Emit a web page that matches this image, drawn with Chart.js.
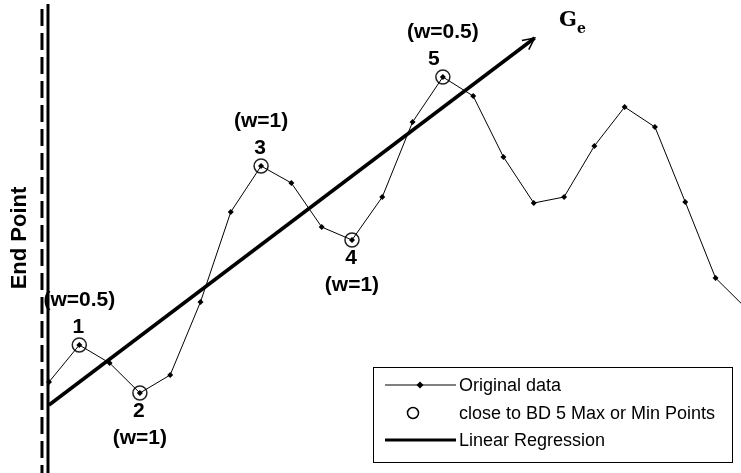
<!DOCTYPE html>
<html>
<head>
<meta charset="utf-8">
<script src="https://cdn.jsdelivr.net/npm/chart.js@4"></script>
<style>
  body { margin: 0; background: #fff; }
  #wrap { width: 741px; height: 473px; position: relative; }
</style>
</head>
<body>
<div id="wrap"><canvas id="miGrafico"></canvas></div>
<script>
// original signal, one value per sample
var original = [9.1, 12.8, 11.0, 8.0, 9.8, 17.1, 26.1, 30.7, 29.0, 24.6, 23.3, 27.6,
                35.1, 39.6, 37.7, 31.6, 27.0, 27.6, 32.7, 36.6, 34.6, 27.1, 19.5, 16.5];
// the 5 max / min points close to the boundary (sample index)
var extremaIdx = [1, 3, 7, 10, 13];
var extremaNum = ['1', '2', '3', '4', '5'];
var extremaW = ['(w=0.5)', '(w=1)', '(w=1)', '(w=1)', '(w=0.5)'];
// linear regression, start and end (arrow)
var regX = [0, 16.03];
var regY = [6.8, 43.5];
var endPointX = 0;
var legendLabels = ['Original data', 'close to BD 5 Max or Min Points', 'Linear Regression'];

document.addEventListener('DOMContentLoaded', function() {
    var ctx = document.getElementById('miGrafico');

    var origPts = original.map((v, i) => ({ x: i, y: v }));
    var extPts = extremaIdx.map(i => ({ x: i, y: original[i] }));
    var regPts = regX.map((x, i) => ({ x: x, y: regY[i] }));

    // label offsets above / below each circled point
    var below = [false, true, false, true, false];

    var extras = {
        id: 'extras',
        beforeDatasetsDraw: function(chart) {
            var c = chart.ctx;
            var xs = chart.scales.x, ys = chart.scales.y;
            c.save();
            c.fillStyle = '#000';
            c.textAlign = 'center';
            c.textBaseline = 'middle';
            c.font = 'bold 21px "Liberation Sans", Arial, sans-serif';
            extremaIdx.forEach(function(idx, k) {
                var px = xs.getPixelForValue(idx);
                var py = ys.getPixelForValue(original[idx]);
                var s = below[k] ? 1 : -1;
                var nx = k === 4 ? px - 8 : px;
                c.fillText(extremaNum[k], nx - 1, py + s * 18);
                c.fillText(extremaW[k], px, py + s * 45);
            });
            // End Point label
            c.save();
            c.translate(20, 238);
            c.rotate(-Math.PI / 2);
            c.font = 'bold 22px "Liberation Sans", Arial, sans-serif';
            c.fillText('End Point', 0, 0);
            c.restore();
            // end point lines
            var ex = xs.getPixelForValue(endPointX) - 1;
            c.strokeStyle = '#000';
            c.lineWidth = 3;
            c.beginPath();
            c.moveTo(ex, 4); c.lineTo(ex, 473);
            c.stroke();
            c.setLineDash([17, 7]);
            c.beginPath();
            c.moveTo(ex - 6, 9); c.lineTo(ex - 6, 473);
            c.stroke();
            c.restore();
        },
        afterDatasetsDraw: function(chart) {
            var c = chart.ctx;
            var xs = chart.scales.x, ys = chart.scales.y;
            c.save();
            // arrow head on the regression line
            var x1 = xs.getPixelForValue(regX[0]), y1 = ys.getPixelForValue(regY[0]);
            var x2 = xs.getPixelForValue(regX[1]), y2 = ys.getPixelForValue(regY[1]);
            var a = Math.atan2(y2 - y1, x2 - x1);
            c.strokeStyle = '#000';
            c.lineWidth = 1.5;
            c.beginPath();
            c.moveTo(x2 - 13 * Math.cos(a - 0.45), y2 - 13 * Math.sin(a - 0.45));
            c.lineTo(x2, y2);
            c.lineTo(x2 - 13 * Math.cos(a + 0.45), y2 - 13 * Math.sin(a + 0.45));
            c.stroke();
            // G_e
            c.fillStyle = '#000';
            c.textBaseline = 'alphabetic';
            c.textAlign = 'left';
            c.font = 'bold 21px "DejaVu Serif", serif';
            c.fillText('G', 559, 26);
            c.font = 'bold 14px "DejaVu Serif", serif';
            c.fillText('e', 577, 33);
            // legend box
            c.fillStyle = '#fff';
            c.fillRect(373, 367, 359, 95);
            c.lineWidth = 1;
            c.strokeRect(373.5, 367.5, 359, 95);
            c.fillStyle = '#000';
            var rows = [385, 413, 440];
            c.beginPath();
            c.moveTo(385, rows[0]); c.lineTo(456, rows[0]);
            c.stroke();
            c.beginPath();
            c.moveTo(420, rows[0] - 3.5); c.lineTo(423.5, rows[0]); c.lineTo(420, rows[0] + 3.5); c.lineTo(416.5, rows[0]);
            c.closePath(); c.fill();
            c.lineWidth = 1.5;
            c.beginPath();
            c.arc(413, rows[1], 5.5, 0, Math.PI * 2);
            c.stroke();
            c.lineWidth = 3;
            c.beginPath();
            c.moveTo(385, rows[2]); c.lineTo(456, rows[2]);
            c.stroke();
            c.font = '18px "Liberation Sans", Arial, sans-serif';
            c.textBaseline = 'middle';
            legendLabels.forEach(function(t, i) { c.fillText(t, 459, rows[i] + 1); });
            c.restore();
        }
    };

    new Chart(ctx, {
        type: 'scatter',
        data: {
            datasets: [
                {
                    label: legendLabels[0],
                    data: origPts,
                    showLine: true,
                    borderColor: '#000',
                    backgroundColor: '#000',
                    borderWidth: 1,
                    pointStyle: 'rectRot',
                    pointRadius: 3,
                    pointBorderWidth: 0
                },
                {
                    label: legendLabels[1],
                    data: extPts,
                    showLine: false,
                    borderColor: '#222',
                    backgroundColor: 'rgba(0,0,0,0)',
                    pointStyle: 'circle',
                    pointRadius: 7,
                    pointBorderWidth: 1.5
                },
                {
                    label: legendLabels[2],
                    data: regPts,
                    showLine: true,
                    borderColor: '#000',
                    borderWidth: 3.5,
                    pointRadius: 0
                }
            ]
        },
        options: {
            responsive: true,
            maintainAspectRatio: false,
            animation: false,
            layout: { padding: 0, autoPadding: false },
            plugins: { legend: { display: false }, tooltip: { enabled: false } },
            scales: {
                x: { type: 'linear', display: false, min: -1.617, max: 22.84 },
                y: { type: 'linear', display: false, min: 0, max: 47.3 }
            }
        },
        plugins: [extras]
    });
});
</script>
</body>
</html>
